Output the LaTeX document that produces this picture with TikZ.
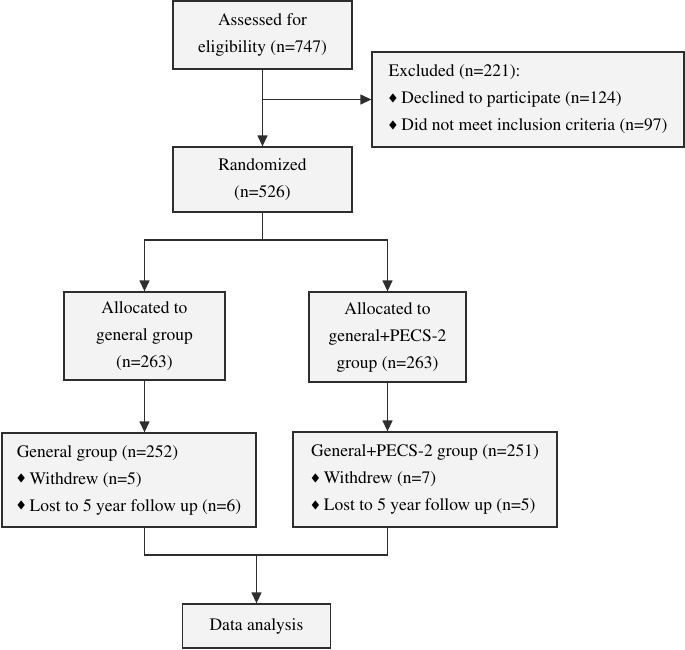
\documentclass[tikz,border=0pt]{standalone}
\usepackage[T1]{fontenc}
\usepackage{mathptmx}
\usepackage{amssymb}
\usepackage{graphicx}
\usetikzlibrary{arrows.meta,positioning}

\definecolor{boxfill}{HTML}{F3F3F3}
\definecolor{boxline}{HTML}{2E2E2E}
\newcommand{\dia}{\raisebox{2.5pt}{\scalebox{0.75}[0.6]{$\blacklozenge$}}\hspace{4pt}}

\begin{document}
\begin{tikzpicture}[x=1pt,y=-1pt,
    font=\fontsize{17.5}{27}\selectfont,
    box/.style={draw=boxline,fill=boxfill,line width=1.3pt,inner sep=0pt,align=center},
    listbox/.style={box,align=left},
    line/.style={draw=boxline,line width=1.3pt},
    >={Triangle[width=10pt,length=11pt]}]
    \useasboundingbox (0,0) rectangle (685,649);

    \node[box,minimum width=179pt,minimum height=68pt]      (assess) at (262.5,35)  {Assessed for\\eligibility (n=747)};
    \node[listbox,minimum width=312pt,minimum height=95pt]  (excl)   at (528,99.5)  {Excluded (n=221):\\\dia Declined to participate (n=124)\\\dia Did not meet inclusion criteria (n=97)};
    \node[box,minimum width=179pt,minimum height=65pt]      (rand)   at (262.5,179.5) {Randomized\\(n=526)};
    \node[box,minimum width=161pt,minimum height=88pt]      (allocg) at (144.5,336) {Allocated to\\general group\\(n=263)};
    \node[box,minimum width=157pt,minimum height=90pt]      (allocp) at (387.5,337) {Allocated to\\general+PECS-2\\group (n=263)};
    \node[listbox,minimum width=254pt,minimum height=94pt]  (gen)    at (129,480)   {General group (n=252)\\\dia Withdrew (n=5)\\\dia Lost to 5 year follow up (n=6)};
    \node[listbox,minimum width=264pt,minimum height=95pt]  (pecs)   at (425,479.5) {General+PECS-2 group (n=251)\\\dia Withdrew (n=7)\\\dia Lost to 5 year follow up (n=5)};
    \node[box,minimum width=148pt,minimum height=44pt]      (data)   at (256.5,626) {Data analysis};

    \coordinate (split) at (262.5,240);
    \coordinate (join)  at (256.5,555);

    \draw[line,->]  (assess) -- (rand);
    \draw[line,->]  (assess.south |- excl.west) -- (excl.west);
    \draw[line]     (rand) -- (split);
    \draw[line,->]  (split) -| (allocg.north);
    \draw[line,->]  (split) -| (allocp.north);
    \draw[line,->]  (allocg) -- (allocg.south |- gen.north);
    \draw[line,->]  (allocp) -- (allocp.south |- pecs.north);
    \draw[line]     (allocg |- gen.south) |- (join);
    \draw[line]     (allocp |- pecs.south) |- (join);
    \draw[line,->]  (join) -- (data);
\end{tikzpicture}
\end{document}
